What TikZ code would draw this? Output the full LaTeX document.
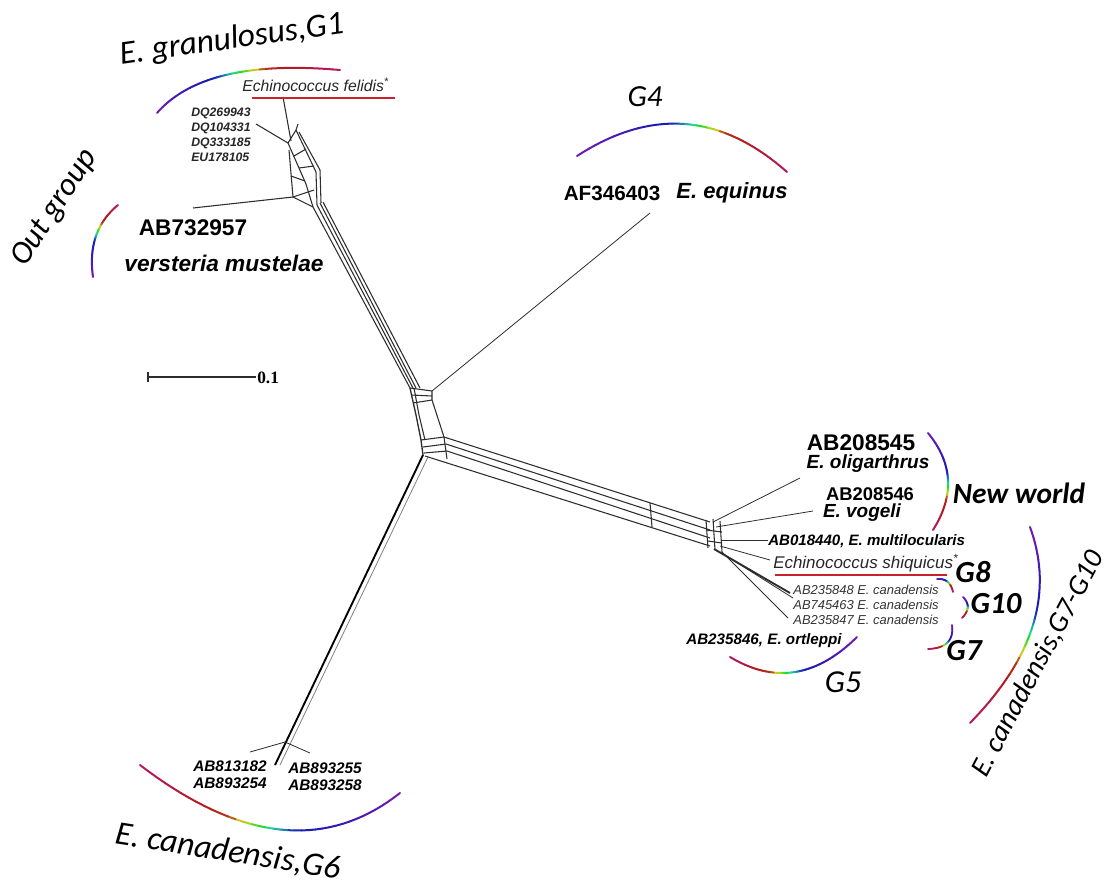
\documentclass[tikz,border=0pt]{standalone}
\usepackage{fontspec}
\setmainfont{Liberation Sans}
\newfontfamily\calfont{Carlito}
\newfontfamily\serfont{Liberation Serif}
\usetikzlibrary{calc}
\definecolor{ulred}{RGB}{200,35,45}
\definecolor{netc}{RGB}{45,45,45}
\newcommand{\rarc}[7]{%
  \foreach \i in {0,...,35}{%
    \pgfmathsetmacro\ta{\i/36}%
    \pgfmathsetmacro\tb{(\i+1)/36}%
    \pgfmathsetmacro\xa{(1-\ta)^2*#1+2*\ta*(1-\ta)*#3+\ta^2*#5}%
    \pgfmathsetmacro\ya{(1-\ta)^2*#2+2*\ta*(1-\ta)*#4+\ta^2*#6}%
    \pgfmathsetmacro\xb{(1-\tb)^2*#1+2*\tb*(1-\tb)*#3+\tb^2*#5}%
    \pgfmathsetmacro\yb{(1-\tb)^2*#2+2*\tb*(1-\tb)*#4+\tb^2*#6}%
    \pgfmathsetmacro\tm{(\ta+\tb)/2}%
    \pgfmathsetmacro\hr{\tm<0.45 ? 275-90*\tm : (\tm<0.7 ? 234.5-898*(\tm-0.45) : 10-133.3*(\tm-0.7))}%
    \pgfmathsetmacro\hu{mod(\hr+720,360)}%
    \pgfmathsetmacro\br{(\hu>40 && \hu<160) ? 0.85 : 0.7}%
    \definecolor{rbc}{Hsb}{\hu,0.85,\br}%
    \draw[rbc,line width=#7,line cap=round] (\xa,\ya) -- (\xb,\yb);%
  }%
}
\begin{document}
\begin{tikzpicture}[x=0.75pt,y=-0.75pt,
  big/.style={inner sep=0pt,font=\calfont\itshape\fontsize{25}{30}\selectfont},
  bigb/.style={inner sep=0pt,font=\calfont\bfseries\itshape\fontsize{23}{28}\selectfont},
  accb/.style={inner sep=0pt,font=\bfseries\fontsize{#1}{#1}\selectfont},
  acci/.style={inner sep=0pt,font=\bfseries\itshape\fontsize{#1}{#1}\selectfont},
  net/.style={netc,line width=0.8pt},
  redline/.style={ulred,line width=2.2pt}]
\useasboundingbox (0,0) rectangle (1109,886);

% ---------------- network: top cluster ----------------
\coordinate (fel) at (283,97);
\coordinate (dqp) at (256,124);
\coordinate (v1) at (288,143);
\coordinate (v2) at (296,130);
\coordinate (og) at (293,197);
\coordinate (eq) at (650,213);
\draw[net] (fel) -- (291,141);
\draw[net] (dqp) -- (v1);
\draw[net] (v1) -- (v2) -- (298,124);
\draw[net] (v1) -- (306,184) -- (313,207);
\draw[net] (v2) -- (316,172) -- (317,205);
\draw[net] (299,132) -- (320,170) -- (321,203);
\draw[net] (289,150) -- (og) -- (313,207);
\draw[net] (294,156) -- (306,149);
\draw[net] (299,168) -- (314,166);
\draw[net] (291,176) -- (305,181);
\draw[net] (og) -- (314,190);
\draw[net] (193,208) -- (og);

% main upper branch
\draw[net] (313,207) -- (410,388);
\draw[net] (317,205) -- (413,388);
\draw[net] (320,203) -- (416,388);
\draw[net] (323,202) -- (420,388);
% middle box and equinus
\draw[net] (410,388) -- (432,391) -- (432,400) -- (413,403);
\draw[net] (412,395) -- (432,396);
\draw[net,line width=0.6pt] (432,391) -- (eq);
\draw[net] (432,400) -- (444,437);
\draw[net,line width=1pt] (410,388) -- (416,415) -- (421,440) -- (423,455);
\draw[net] (414,388) -- (419,415) -- (425,440);
% junction
\draw[net] (421,440) -- (444,437);
\draw[net] (423,447) -- (446,444);
\draw[net] (424,453) -- (447,451);
\draw[net] (444,437) -- (447,459);
% right branch
\draw[net] (444,437) -- (710,522);
\draw[net] (446,444) -- (710,530);
\draw[net] (447,451) -- (710,538);
\draw[net] (425,456) -- (710,546);
\draw[net] (650,503) -- (652,527);
% right cluster
\draw[net] (706,520) -- (708,548);
\draw[net] (713,519) -- (715,550);
\draw[net] (720,521) -- (722,552);
\draw[net] (706,530) -- (722,532);
\draw[net] (708,541) -- (722,543);
% tips
\draw[net,line width=0.6pt] (713,522) -- (800,478);
\draw[net,line width=0.6pt] (716,527) -- (813,511);
\draw[net,line width=0.6pt] (722,540) -- (768,540);
\draw[net,line width=0.6pt] (720,546) -- (770,560);
\draw[netc,line width=1.4pt] (714,549) -- (790,593);
\draw[net,line width=0.6pt] (720,552) -- (793,598);
\draw[net,line width=0.6pt] (722,552) -- (788,618);

% lower branch
\draw[black,line width=1.4pt] (423,455) -- (275,765);
\draw[gray,line width=0.6pt] (428,457) -- (280,765);
\draw[net,line width=0.6pt] (285,742) -- (250,752);
\draw[net,line width=0.6pt] (285,742) -- (310,753);

% ---------------- scale bar ----------------
\coordinate (sb1) at (148,377);
\coordinate (sb2) at (256,377);
\draw[netc,line width=0.8pt] (sb1) -- (sb2);
\draw[netc,line width=0.8pt] (148,372) -- (148,382);
\node[inner sep=0pt,anchor=west,font=\serfont\bfseries\fontsize{13}{13}\selectfont] (sbl) at (257,378) {0.1};

% ---------------- rainbow arcs ----------------
\rarc{157}{113}{205}{58}{340}{70}{1.5pt}
\rarc{93}{277}{86.5}{231}{118}{205}{1.5pt}
\rarc{577}{156}{688}{84}{787}{172}{1.5pt}
\rarc{928}{433}{965.5}{478.5}{933}{530}{1.5pt}
\rarc{857}{637}{796.5}{697}{730}{657}{1.5pt}
\rarc{1030}{527}{1066}{625}{970}{723}{1.5pt}
\rarc{400}{793}{290}{880}{140}{765}{1.5pt}
\rarc{937}{579}{950}{578}{953}{592}{1.3pt}
\rarc{963}{597}{973}{607}{962}{618}{1.3pt}
\rarc{952}{625}{955}{648}{928}{649}{1.3pt}

% ---------------- big labels ----------------
\node[big,rotate=8] (g1) at (232,40) {E. granulosus,G1};
\node[big,rotate=57,font=\calfont\itshape\fontsize{24}{28}\selectfont] (outg) at (55,208) {Out group};
\node[big,rotate=-9] (g6) at (228,852) {E. canadensis,G6};
\node[big,rotate=62,font=\calfont\itshape\fontsize{21.5}{26}\selectfont] (g710) at (1038,664) {E. canadensis,G7-G10};
\node[big,font=\calfont\itshape\fontsize{23}{28}\selectfont] (g4) at (645,97) {G4};
\node[bigb,font=\calfont\bfseries\itshape\fontsize{22}{26}\selectfont] (nw) at (1019,493) {New world};
\node[bigb] (g8) at (973,572) {G8};
\node[bigb] (g10) at (996,604) {G10};
\node[bigb] (g7) at (964,651) {G7};
\node[big,font=\calfont\itshape\fontsize{24}{28}\selectfont] (g5) at (843,682) {G5};

% ---------------- taxon labels ----------------
\node[inner sep=0pt,anchor=west,font=\itshape\fontsize{11.8}{12}\selectfont,text=black!85] (felidis) at (242,85) {Echinococcus felidis\textsuperscript{*}};
\draw[redline] (252,98) -- (395,98);
\node[align=left,anchor=north west,inner sep=0pt,font=\bfseries\itshape\fontsize{9.2}{11.25}\selectfont,text=black!85] (dq) at (191,108) {DQ269943\\DQ104331\\DQ333185\\EU178105};
\node[accb=17] (ab732) at (193,228) {AB732957};
\node[acci=17] (vers) at (224,263) {versteria mustelae};
\node[accb=15.5] (af) at (612,193) {AF346403};
\node[acci=16.5] (equ) at (732,193) {E. equinus};
\node[accb=17] (ab45) at (861,443) {AB208545};
\node[acci=14.3] (olig) at (868,464) {E. oligarthrus};
\node[accb=13.8] (ab46) at (870,494) {AB208546};
\node[acci=14.2] (vog) at (862,513) {E. vogeli};
\node[acci=11.3,anchor=west] (mult) at (768,541) {AB018440, E. multilocularis};
\node[inner sep=0pt,anchor=west,font=\itshape\fontsize{12.7}{13}\selectfont,text=black!85] (shiq) at (773,563) {Echinococcus shiquicus\textsuperscript{*}};
\draw[redline] (775,575) -- (947,575);
\node[inner sep=0pt,font=\itshape\fontsize{9.7}{10}\selectfont,text=black!80] (c48) at (866,590) {AB235848 E. canadensis};
\node[inner sep=0pt,font=\itshape\fontsize{9.7}{10}\selectfont,text=black!80] (c63) at (866,605) {AB745463 E. canadensis};
\node[inner sep=0pt,font=\itshape\fontsize{9.7}{10}\selectfont,text=black!80] (c47) at (866,620) {AB235847 E. canadensis};
\node[acci=11.4] (ort) at (764,641) {AB235846, E. ortleppi};
\node[align=center,inner sep=0pt,font=\bfseries\itshape\fontsize{11.5}{12.75}\selectfont] (b1) at (230,775) {AB813182\\AB893254};
\node[align=center,inner sep=0pt,font=\bfseries\itshape\fontsize{11.5}{12.75}\selectfont] (b2) at (325,777) {AB893255\\AB893258};
\end{tikzpicture}
\end{document}
